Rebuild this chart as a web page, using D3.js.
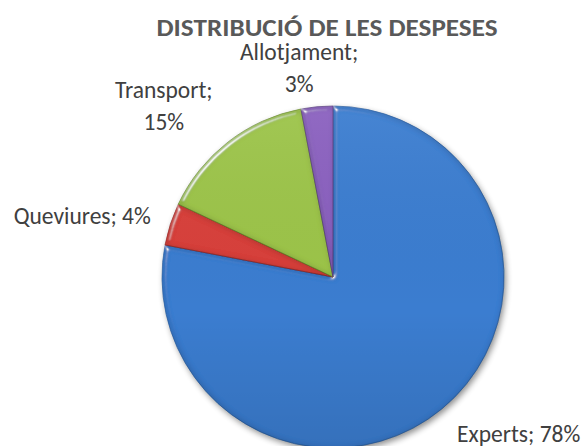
<!DOCTYPE html>
<html>
<head>
<meta charset="utf-8">
<script src="https://cdn.jsdelivr.net/npm/d3@7/dist/d3.min.js"></script>
<style>
  html, body { margin: 0; padding: 0; background: #ffffff; }
  svg { display: block; }
</style>
</head>
<body>
<svg id="chart" width="584" height="446"></svg>
<script>
// ---- data ----
const title = "DISTRIBUCIÓ DE LES DESPESES";
const categories = ["Experts", "Queviures", "Transport", "Allotjament"];
const values = [78, 4, 15, 3];
const colors = ["#3b7dd0", "#d83f3b", "#9cc44a", "#8a61bf"];
const edgeColors = ["#2b5c9c", "#8e2825", "#62822a", "#553b7a"];

// ---- layout ----
const W = 584, H = 446;
const cx = 333, cy = 277, r = 171;
const labelR = r + 30;
const labelLayout = [
  { dx: -4, dy: 10, anchor: "start", wrap: false },
  { dx: 9, dy: 9, anchor: "end", wrap: false },
  { dx: -46, dy: -20, anchor: "middle", wrap: true },
  { dx: -15, dy: -17, anchor: "middle", wrap: true }
];
const lineGap = 32;

const svg = d3.select("#chart");
const defs = svg.append("defs");

// drop shadow
const sh = defs.append("filter").attr("id", "shadow")
  .attr("x", "-20%").attr("y", "-20%").attr("width", "140%").attr("height", "140%");
sh.append("feGaussianBlur").attr("in", "SourceAlpha").attr("stdDeviation", 3).attr("result", "b");
sh.append("feOffset").attr("in", "b").attr("dx", 2).attr("dy", 3).attr("result", "o");
sh.append("feComponentTransfer").attr("in", "o")
  .append("feFuncA").attr("type", "linear").attr("slope", 0.45);

// bevel: edge-only highlight + darker rim
const bv = defs.append("filter").attr("id", "bevel")
  .attr("x", "-10%").attr("y", "-10%").attr("width", "120%").attr("height", "120%");
bv.append("feGaussianBlur").attr("in", "SourceAlpha").attr("stdDeviation", 2.5).attr("result", "blur");
const spec = bv.append("feSpecularLighting").attr("in", "blur")
  .attr("surfaceScale", 4).attr("specularConstant", 0.9).attr("specularExponent", 40)
  .attr("lighting-color", "#ffffff").attr("result", "spec");
spec.append("feDistantLight").attr("azimuth", 225).attr("elevation", 28);
bv.append("feComposite").attr("in", "spec").attr("in2", "SourceAlpha").attr("operator", "in").attr("result", "specIn");
bv.append("feMorphology").attr("in", "SourceAlpha").attr("operator", "erode").attr("radius", 2).attr("result", "er");
bv.append("feGaussianBlur").attr("in", "er").attr("stdDeviation", 2).attr("result", "erb");
bv.append("feComposite").attr("in", "SourceAlpha").attr("in2", "erb").attr("operator", "out").attr("result", "rim");
bv.append("feOffset").attr("in", "rim").attr("dx", 1).attr("dy", 1).attr("result", "rim2");
bv.append("feFlood").attr("flood-color", "#000").attr("flood-opacity", 0.22).attr("result", "dk");
bv.append("feComposite").attr("in", "dk").attr("in2", "rim2").attr("operator", "in").attr("result", "rimDark0");
bv.append("feComposite").attr("in", "rimDark0").attr("in2", "SourceAlpha").attr("operator", "in").attr("result", "rimDark");
const m = bv.append("feMerge");
m.append("feMergeNode").attr("in", "SourceGraphic");
m.append("feMergeNode").attr("in", "rimDark");
m.append("feMergeNode").attr("in", "specIn");

// subtle vertical shading over the whole pie
const lg = defs.append("linearGradient").attr("id", "shade")
  .attr("x1", 0).attr("y1", 0).attr("x2", 0).attr("y2", 1);
lg.append("stop").attr("offset", "0%").attr("stop-color", "#ffffff").attr("stop-opacity", 0.06);
lg.append("stop").attr("offset", "60%").attr("stop-color", "#000000").attr("stop-opacity", 0);
lg.append("stop").attr("offset", "100%").attr("stop-color", "#000000").attr("stop-opacity", 0.1);

const pie = d3.pie().sort(null).value(d => d.value);
const data = categories.map((c, i) => ({ name: c, value: values[i], i }));
const arcs = pie(data);
const arc = d3.arc().innerRadius(0).outerRadius(r);

const g = svg.append("g").attr("transform", `translate(${cx},${cy})`);

g.append("circle").attr("r", r).attr("fill", "#000").attr("filter", "url(#shadow)");

g.selectAll("path.slice")
  .data(arcs)
  .join("path")
  .attr("class", "slice")
  .attr("d", arc)
  .attr("fill", d => colors[d.data.i])
  .attr("stroke", d => edgeColors[d.data.i])
  .attr("stroke-width", 0.7)
  .attr("stroke-linejoin", "round")
  .attr("filter", "url(#bevel)");

g.append("circle").attr("r", r).attr("fill", "url(#shade)").attr("pointer-events", "none");

// title
svg.append("text")
  .attr("x", 327).attr("y", 36)
  .attr("text-anchor", "middle")
  .attr("font-family", "Carlito, Lato, 'Open Sans', sans-serif")
  .attr("font-weight", "bold")
  .attr("font-size", 25)
  .attr("fill", "#595959")
  .attr("textLength", 341)
  .attr("lengthAdjust", "spacingAndGlyphs")
  .text(title);

// labels
const labels = svg.append("g")
  .attr("font-family", "Carlito, Lato, 'Open Sans', sans-serif")
  .attr("font-size", 23.5)
  .attr("fill", "#404040");

arcs.forEach(a => {
  const i = a.data.i;
  const L = labelLayout[i];
  const mid = (a.startAngle + a.endAngle) / 2;
  const x = cx + labelR * Math.sin(mid) + L.dx;
  const y = cy - labelR * Math.cos(mid) + L.dy;
  const pct = d3.format(".0%")(a.data.value / d3.sum(values));
  const t = labels.append("text").attr("text-anchor", L.anchor);
  if (L.wrap) {
    t.append("tspan").attr("x", x).attr("y", y).text(a.data.name + ";");
    t.append("tspan").attr("x", x).attr("y", y + lineGap).text(pct);
  } else {
    t.attr("x", x).attr("y", y).text(a.data.name + "; " + pct);
  }
});
</script>
</body>
</html>
